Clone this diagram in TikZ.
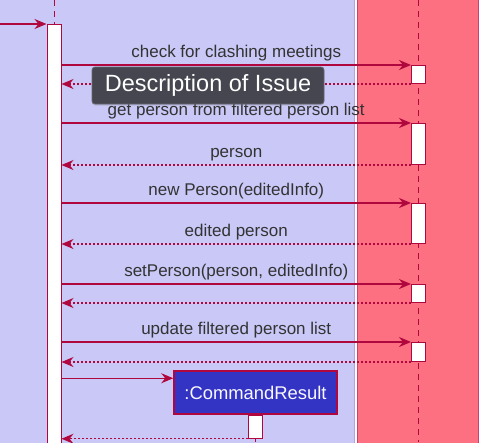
\documentclass[tikz,border=0pt]{standalone}
\usepackage{fontspec}
\setmainfont{Liberation Sans}
\usepackage{xcolor}
\usepackage{tikz}
\usetikzlibrary{arrows.meta,positioning,shadows}
\definecolor{bluebg}{HTML}{C9C8F7}
\definecolor{bluebord}{HTML}{B7A3CF}
\definecolor{pinkbg}{HTML}{FD7081}
\definecolor{seqred}{HTML}{B0083E}
\definecolor{msgtext}{HTML}{333333}
\definecolor{resultblue}{HTML}{3434C4}
\definecolor{tipbg}{HTML}{45464F}
\definecolor{tipbord}{HTML}{65666D}
\tikzset{
  msg/.style={draw=seqred, line width=1.2pt, -{Stealth[length=12pt,width=10pt,inset=4pt]}},
  reply/.style={msg, dash pattern=on 2pt off 2pt},
  life/.style={draw=seqred, line width=1pt, dash pattern=on 6pt off 5pt},
  actbox/.style={draw=seqred, fill=white, line width=1pt, minimum width=14pt, inner sep=0pt},
  lab/.style={text=msgtext, font=\fontsize{17}{19}\selectfont, inner sep=0pt, text depth=4pt, above=2.5pt},
  resultbox/.style={draw=seqred, fill=resultblue, line width=1.5pt, text=white!88!bluebg,
    font=\fontsize{18.4}{20}\selectfont, minimum width=163pt, minimum height=43pt, inner sep=0pt},
  tip/.style={draw=tipbord, fill=tipbg, line width=0.8pt, rounded corners=3pt, text=white,
    font=\fontsize{23.5}{25}\selectfont, minimum width=232pt, minimum height=37pt, inner sep=0pt,
    drop shadow={opacity=0.25, shadow xshift=0pt, shadow yshift=-1.5pt}},
}

\begin{document}
\begin{tikzpicture}[x=1pt,y=-1pt]
  \useasboundingbox (0,0) rectangle (498,442);
  \clip (0,0) rectangle (498,442);
  % boxes of the participants
  \fill[white] (0,0) rectangle (498,442);
  \fill[bluebg] (-2,-2) rectangle (355,444);
  \draw[bluebord, line width=1.2pt] (354.5,-2) -- (354.5,444);
  \filldraw[fill=pinkbg, draw=seqred!75, line width=1pt] (357,-2) rectangle (478.5,444);

  % lifelines
  \coordinate (ctrltop) at (54,0);
  \coordinate (modeltop) at (418.5,0);
  \coordinate (modelend) at (418.5,442);
  \coordinate (entry) at (0,24);
  \draw[life] (modeltop) -- (modelend);
  \draw[life] (ctrltop) -- (54,24);

  % activations
  \node[actbox, anchor=north, minimum height=440pt] (ctrl) at (54,24) {};
  \node[actbox, anchor=north, minimum height=18pt] (act1) at (418.5,65) {};
  \node[actbox, anchor=north, minimum height=41pt] (act2) at (418.5,123) {};
  \node[actbox, anchor=north, minimum height=40pt] (act3) at (418.5,203) {};
  \node[actbox, anchor=north, minimum height=18pt] (act4) at (418.5,284) {};
  \node[actbox, anchor=north, minimum height=19pt] (act5) at (418.5,342) {};

  % messages
  \draw[msg] (entry) -- (ctrl.north west);
  \draw[msg] (ctrl.east |- act1.north) -- node[lab] {check for clashing meetings} (act1.north west);
  \draw[reply] (act1.south west) -- (ctrl.east |- act1.south);
  \draw[msg] (ctrl.east |- act2.north) -- node[lab] {get person from filtered person list} (act2.north west);
  \draw[reply] (act2.south west) -- node[lab] {person} (ctrl.east |- act2.south);
  \draw[msg] (ctrl.east |- act3.north) -- node[lab] {new Person(editedInfo)} (act3.north west);
  \draw[reply] (act3.south west) -- node[lab] {edited person} (ctrl.east |- act3.south);
  \draw[msg] (ctrl.east |- act4.north) -- node[lab] {setPerson(person, editedInfo)} (act4.north west);
  \draw[reply] (act4.south west) -- (ctrl.east |- act4.south);
  \draw[msg] (ctrl.east |- act5.north) -- node[lab] {update filtered person list} (act5.north west);
  \draw[reply] (act5.south west) -- (ctrl.east |- act5.south);

  % created result
  \node[resultbox] (result) at (255.5,392.5) {:CommandResult};
  \coordinate (newres) at ([yshift=-8pt]result.north west);
  \draw[msg] (ctrl.east |- newres) -- (newres);
  \node[actbox, anchor=north, minimum height=23pt] (resact) at (result.south) {};
  \coordinate (resend) at (255.5,442);
  \draw[life] (resact.south) -- (resend);
  \draw[reply] (resact.south west) -- (ctrl.east |- resact.south);

  % tooltip
  \node[tip] (issue) at (208,85.5) {Description of Issue};
\end{tikzpicture}
\end{document}
